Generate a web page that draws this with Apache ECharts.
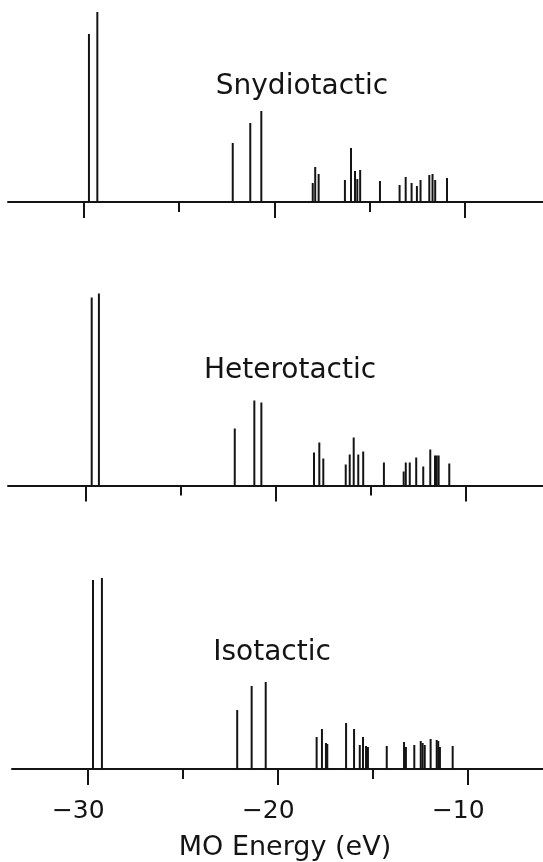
<!DOCTYPE html>
<html><head><meta charset="utf-8">
<script src="https://cdn.jsdelivr.net/npm/echarts@6/dist/echarts.min.js"></script>
<style>html,body{margin:0;padding:0;background:#fff}#chart{width:543px;height:862px}</style>
</head><body><div id="chart"></div>
<script>
// ---- data ----
const panelTitles = ['Snydiotactic', 'Heterotactic', 'Isotactic'];
const xAxisTitle = 'MO Energy (eV)';
const majorTicks = [-30, -20, -10];
const minorTicks = [-25, -15];

const snydEnergy = [-29.74, -29.30, -22.19, -21.27, -20.69, -17.99, -17.86, -17.68, -16.30, -15.98, -15.77, -15.65, -15.50, -14.46, -13.43, -13.11, -12.80, -12.52, -12.33, -11.87, -11.70, -11.56, -10.94];
const snydIntensity = [168, 190, 59, 79, 91, 19, 35, 28, 22, 54, 31, 23, 32, 21, 17, 25, 19, 16, 22, 27, 28, 22, 24];

const heteroEnergy = [-29.70, -29.32, -22.17, -21.14, -20.77, -18.00, -17.72, -17.51, -16.33, -16.12, -15.91, -15.67, -15.41, -14.32, -13.28, -13.17, -12.96, -12.62, -12.25, -11.88, -11.63, -11.54, -11.44, -10.88];
const heteroIntensity = [188, 192, 57, 85, 83, 33, 43, 27, 21, 31, 48, 31, 34, 23, 14, 23, 23, 28, 19, 36, 30, 30, 30, 22];

const isoEnergy = [-29.70, -29.23, -22.11, -21.35, -20.61, -17.93, -17.65, -17.44, -17.37, -16.38, -15.96, -15.66, -15.49, -15.33, -15.23, -14.24, -13.33, -13.23, -12.79, -12.45, -12.35, -12.24, -11.93, -11.61, -11.53, -11.44, -10.77];
const isoIntensity = [189, 191, 59, 83, 87, 32, 40, 26, 25, 46, 40, 24, 32, 23, 22, 23, 27, 22, 24, 28, 26, 24, 30, 29, 28, 22, 23];

// ---- layout ----
const INK = '#141414';
const FONT = 'DejaVu Sans';
const panels = [
  {title: panelTitles[0], energy: snydEnergy, intensity: snydIntensity, left: 8, top: 2, min: -33.99, max: -5.90, tx: 302, ty: 87},
  {title: panelTitles[1], energy: heteroEnergy, intensity: heteroIntensity, left: 8, top: 285.5, min: -34.105, max: -5.947, tx: 290, ty: 371},
  {title: panelTitles[2], energy: isoEnergy, intensity: isoIntensity, left: 12, top: 569, min: -33.963, max: -6.016, tx: 272, ty: 653}
];
const H = 200;

const grid = [], xAxis = [], yAxis = [], series = [], graphic = [];
panels.forEach((p, i) => {
  const last = i === panels.length - 1;
  grid.push({left: p.left, right: 0, top: p.top, height: H, containLabel: false, outerBoundsMode: 'none'});
  xAxis.push({
    gridIndex: i, type: 'value', min: p.min, max: p.max, position: 'bottom',
    axisLine: {show: true, onZero: false, lineStyle: {color: INK, width: 2}},
    axisTick: {show: true, customValues: majorTicks, length: 16, lineStyle: {color: INK, width: 2}},
    axisLabel: {show: last, customValues: majorTicks, margin: 30, padding: [0, 18, 0, 0],
      color: INK, fontFamily: FONT, fontSize: 25,
      formatter: v => (v < 0 ? '\u2212' : '') + Math.abs(v)},
    splitLine: {show: false},
    name: last ? xAxisTitle : '', nameLocation: 'middle', nameGap: 65,
    nameTextStyle: {color: INK, fontFamily: FONT, fontSize: 27, padding: [0, 0, 0, 15]}
  });
  xAxis.push({
    gridIndex: i, type: 'value', min: p.min, max: p.max, position: 'bottom',
    axisLine: {show: false, onZero: false},
    axisTick: {show: true, customValues: minorTicks, length: 10, lineStyle: {color: INK, width: 2}},
    axisLabel: {show: false}, splitLine: {show: false}
  });
  yAxis.push({gridIndex: i, type: 'value', min: 0, max: H, show: false, splitLine: {show: false}});
  series.push({
    type: 'bar', xAxisIndex: 2 * i, yAxisIndex: i, barWidth: 2, silent: true,
    itemStyle: {color: INK},
    data: p.energy.map((e, k) => [e, p.intensity[k]])
  });
  graphic.push({type: 'text', x: p.tx, y: p.ty,
    style: {text: p.title, fill: INK, font: '28px "' + FONT + '"', textAlign: 'center', textVerticalAlign: 'middle'}});
});

const chart = echarts.init(document.getElementById('chart'));
chart.setOption({
  backgroundColor: '#fff', animation: false,
  grid, xAxis, yAxis, series, graphic
});
</script></body></html>
